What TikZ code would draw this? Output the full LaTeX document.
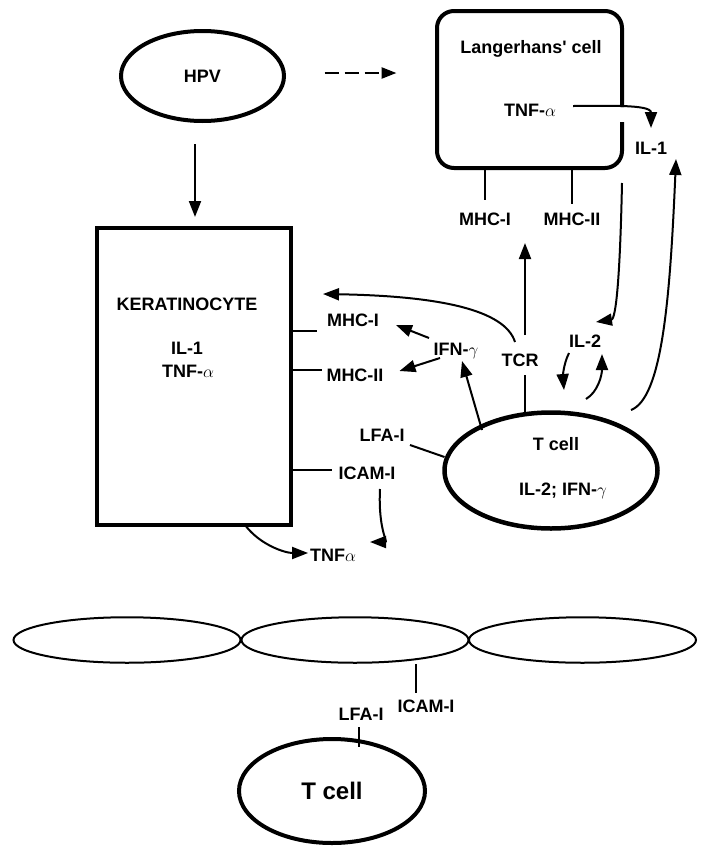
\documentclass[tikz,border=0pt]{standalone}
\usepackage{fontspec}
\setmainfont{Liberation Sans}
\usetikzlibrary{positioning, arrows.meta, shapes.geometric, calc}

\begin{document}
\begin{tikzpicture}[
  x=1pt, y=-1pt,
  lbl/.style={
    font=\fontsize{18}{20}\selectfont\bfseries,
    inner sep=0pt, outer sep=0pt,
    text height=13pt, text depth=0pt
  },
  virus/.style={
    ellipse, draw, line width=4pt,
    minimum width=163pt, minimum height=90pt,
    inner sep=0pt, outer sep=0pt,
    font=\fontsize{18}{20}\selectfont\bfseries
  },
  cellbox/.style={
    rectangle, inner sep=0pt, outer sep=0pt,
    minimum width=185pt, minimum height=157pt
  },
  kbox/.style={
    rectangle, draw, line width=4pt,
    inner sep=0pt, outer sep=0pt,
    minimum width=194pt, minimum height=297pt
  },
  tcell/.style={
    ellipse, draw, line width=4.5pt,
    inner sep=0pt, outer sep=0pt,
    minimum width=213pt, minimum height=116pt
  },
  epi/.style={
    ellipse, draw, line width=2pt,
    inner sep=0pt, outer sep=0pt,
    minimum width=227pt, minimum height=45.5pt
  },
  tbig/.style={
    ellipse, draw, line width=4pt,
    inner sep=0pt, outer sep=0pt,
    minimum width=186pt, minimum height=104pt,
    font=\fontsize{24}{26}\selectfont\bfseries,
    text height=17pt, text depth=0pt
  },
  thickline/.style={line width=4pt},
  tick/.style={line width=2pt},
  arr/.style={
    -{Triangle[length=16pt,width=12pt]}, line width=2pt
  },
  dasharr/.style={
    -{Triangle[length=15pt,width=11pt]}, line width=2.5pt,
    dash pattern=on 14pt off 6pt
  }
]
\useasboundingbox (0,0) rectangle (707,846);

% ================= Top: HPV and Langerhans' cell =================
\node[virus] (HPV) at (202.5,76) {HPV};
\node[cellbox] (LC) at (529.5,89.5) {};
\draw[thickline, rounded corners=17pt]
  ([yshift=-17.5pt]LC.east) -- (LC.north east) -- (LC.north west)
  -- (LC.south west) -- (LC.south east) -- ([yshift=-32.5pt]LC.east);
\node[lbl] (LCname) at (531,47) {Langerhans\textquotesingle\ cell};
\node[lbl] (LCtnf) at (530,110) {TNF-\(\alpha\)};
\node[lbl] (IL1) at (651,148) {IL-1};
\node[lbl] (LCmhcI) at (485,219) {MHC-I};
\node[lbl] (LCmhcII) at (572,219) {MHC-II};

% ================= Keratinocyte =================
\node[kbox] (KC) at (194,376.5) {};
\node[lbl] (KCname) at (187,304) {KERATINOCYTE};
\node[lbl] (KCil1) at (187,348) {IL-1};
\node[lbl] (KCtnf) at (188,371) {TNF-\(\alpha\)};
\node[lbl] (KmhcI) at (353,320) {MHC-I};
\node[lbl] (KmhcII) at (355,375) {MHC-II};
\node[lbl] (ICAM) at (367,473) {ICAM-I};
\node[lbl] (TNFa) at (333,555) {TNF\(\alpha\)};

% ================= T cell =================
\node[tcell] (TC) at (551,470.5) {};
\node[lbl] (TCname) at (556,444) {T cell};
\node[lbl] (TCcyt) at (563,489) {IL-2; IFN-\(\gamma\)};
\node[lbl] (IFNg) at (456,349) {IFN-\(\gamma\)};
\node[lbl] (TCR) at (520,360) {TCR};
\node[lbl] (IL2) at (585,341) {IL-2};
\node[lbl] (LFA) at (382,435) {LFA-I};

% ================= Connections: top =================
\draw[dasharr] ([xshift=40.5pt,yshift=3pt]HPV.east) -- ++(72,0);
\draw[arr] ([xshift=-7.5pt,yshift=-23pt]HPV.south) -- ([xshift=1pt,yshift=11pt]KC.north);
\draw[arr] ([xshift=43pt,yshift=4pt]LCtnf.center) .. controls +(30,0) and +(0,-24) .. ([yshift=13.5pt]IL1.north);
\draw[tick] (LCmhcI.north |- LC.south) -- ([yshift=12.5pt]LCmhcI.north);
\draw[tick] (LCmhcII.north |- LC.south) -- ([yshift=8.5pt]LCmhcII.north);

% ================= Connections: keratinocyte =================
\draw[tick] ([yshift=45.5pt]KC.east) -- ++(26,0);
\draw[tick] ([yshift=6.5pt]KC.east) -- ++(31,0);
\draw[tick] ([yshift=-93.5pt]KC.east) -- ++(41,0);
\draw[arr] ([xshift=51pt]KC.south) .. controls +(15,20) and +(-23,0) .. ([xshift=-2pt,yshift=2pt]TNFa.west);
\draw[arr] ([xshift=13pt,yshift=-16pt]ICAM.center) .. controls +(-2,40) and +(18,0) .. ([xshift=3pt,yshift=-69pt]ICAM.center);

% ================= Connections: T cell =================
\draw[arr] ([xshift=-27pt,yshift=11pt]IFNg.center) -- ([xshift=17pt,yshift=-5pt]KmhcI.east);
\draw[arr] ([xshift=-16pt,yshift=-9pt]IFNg.center) -- ([xshift=16pt,yshift=4pt]KmhcII.east);
\draw[arr] ([xshift=-69pt,yshift=40.5pt]TC.center) -- ([xshift=6pt,yshift=-5.5pt]IFNg.south);
\draw[arr] ([xshift=5pt,yshift=25pt]TCR.center) -- ++(0,-92);
\draw[tick] ([xshift=5pt,yshift=-15pt]TCR.center) -- ++(0,38.5);
\draw[arr] ([xshift=-5pt,yshift=18pt]TCR.center) .. controls +(-10,-32) and +(117,2) .. ([xshift=32pt,yshift=82.5pt]KC.east);
\draw[tick] ([xshift=28pt,yshift=-10pt]LFA.center) -- ([yshift=13.5pt]TC.west);
\draw[arr] ([yshift=-15pt]LC.south east) .. controls +(-2,95) and +(20,-3) .. ([xshift=11pt,yshift=19pt]IL2.center);
\draw[arr] ([xshift=-16pt,yshift=-12pt]IL2.center) .. controls +(-6,12) and +(-1,-12) .. ([xshift=-21pt,yshift=-49pt]IL2.center);
\draw[arr] ([xshift=1pt,yshift=-58pt]IL2.center) .. controls +(12,-7) and +(0,21) .. ([xshift=17pt,yshift=-13pt]IL2.center);
\draw[arr] ([xshift=80pt,yshift=60.5pt]TC.center) .. controls +(31,-12) and +(-6,141) .. ([xshift=25pt,yshift=-11pt]IL1.center);

% ================= Bottom: epithelium and T cell =================
\node[epi] (E1) at (127,640) {};
\node[epi] (E2) at (355,640) {};
\node[epi] (E3) at (582.5,640) {};
\node[lbl] (bICAM) at (426,706) {ICAM-I};
\node[lbl] (bLFA) at (361,714) {LFA-I};
\node[tbig] (bTC) at (332,791) {T cell};
\draw[tick] ([xshift=61pt,yshift=-1pt]E2.south) -- ([xshift=-10pt,yshift=6.5pt]bICAM.north);
\draw[tick] ([xshift=-2pt,yshift=-6.5pt]bLFA.south) -- ++(0,20);

\end{tikzpicture}
\end{document}
